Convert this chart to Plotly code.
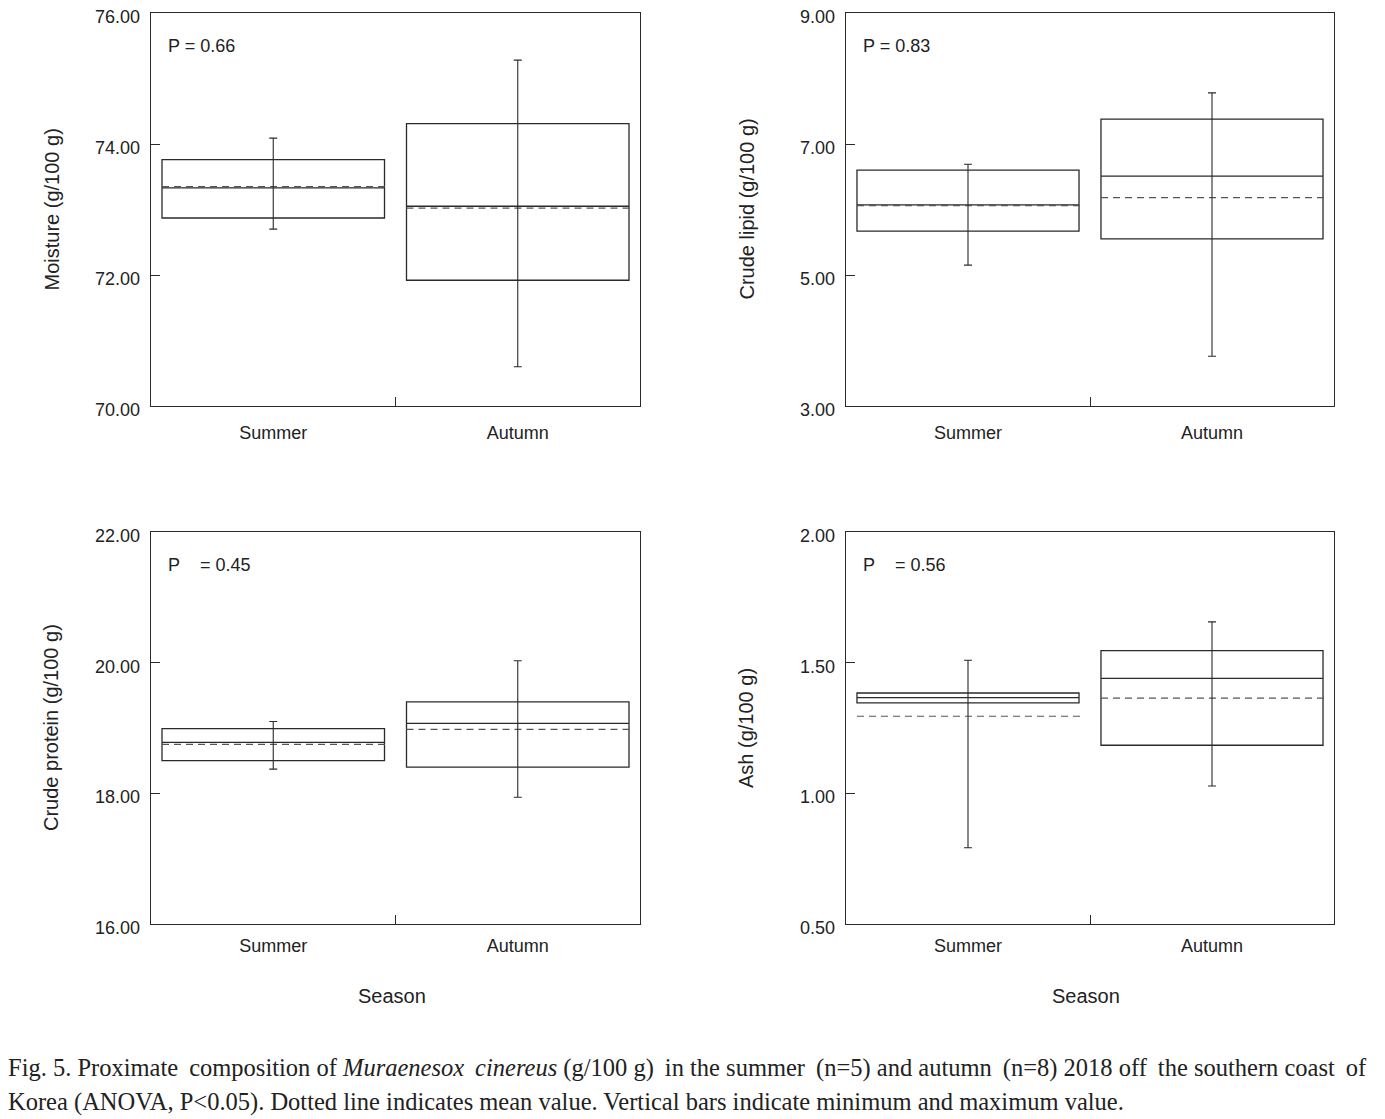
import plotly.graph_objects as go
from plotly.subplots import make_subplots

# page has an 8px body margin; figure sized to fit the window
OFF = 8
W, H = 1385 - OFF, 1119 - OFF

seasons = ["Summer", "Autumn"]

# Moisture (g/100 g)
moist_ticks = [70, 72, 74, 76]
moist_q1 = [72.87, 71.92]
moist_med = [73.33, 73.05]
moist_q3 = [73.76, 74.31]
moist_mean = [73.35, 73.02]
moist_min = [72.70, 70.60]
moist_max = [74.09, 75.28]

# Crude lipid (g/100 g)
lipid_ticks = [3, 5, 7, 9]
lipid_q1 = [5.67, 5.55]
lipid_med = [6.07, 6.51]
lipid_q3 = [6.60, 7.38]
lipid_mean = [6.06, 6.18]
lipid_min = [5.15, 3.76]
lipid_max = [6.69, 7.78]

# Crude protein (g/100 g)
prot_ticks = [16, 18, 20, 22]
prot_q1 = [18.50, 18.40]
prot_med = [18.78, 19.07]
prot_q3 = [18.99, 19.40]
prot_mean = [18.75, 18.98]
prot_min = [18.37, 17.94]
prot_max = [19.10, 20.03]

# Ash (g/100 g)
ash_ticks = [0.5, 1.0, 1.5, 2.0]
ash_q1 = [1.346, 1.184]
ash_med = [1.366, 1.440]
ash_q3 = [1.384, 1.546]
ash_mean = [1.295, 1.364]
ash_min = [0.792, 1.028]
ash_max = [1.509, 1.656]

panels = [
    dict(row=1, col=1, q1=moist_q1, med=moist_med, q3=moist_q3, mean=moist_mean,
         mn=moist_min, mx=moist_max, ticks=moist_ticks, title="Moisture (g/100 g)", p="P = 0.66"),
    dict(row=1, col=2, q1=lipid_q1, med=lipid_med, q3=lipid_q3, mean=lipid_mean,
         mn=lipid_min, mx=lipid_max, ticks=lipid_ticks, title="Crude lipid (g/100 g)", p="P = 0.83"),
    dict(row=2, col=1, q1=prot_q1, med=prot_med, q3=prot_q3, mean=prot_mean,
         mn=prot_min, mx=prot_max, ticks=prot_ticks, title="Crude protein (g/100 g)",
         p="P\u00a0\u00a0\u00a0\u00a0= 0.45"),
    dict(row=2, col=2, q1=ash_q1, med=ash_med, q3=ash_q3, mean=ash_mean,
         mn=ash_min, mx=ash_max, ticks=ash_ticks, title="Ash (g/100 g)",
         p="P\u00a0\u00a0\u00a0\u00a0= 0.56"),
]

fig = make_subplots(rows=2, cols=2)

LINE = "#2a2a2a"
DASH = "#555555"
FONT = "Liberation Sans, Arial, sans-serif"

def px(x):
    return (x - OFF) / W

def py(y):
    return 1 - (y - OFF) / H

# pixel geometry of plot areas (reference image coordinates)
xdom = {1: (151, 640), 2: (846, 1334)}
ydom = {1: (13, 406), 2: (532, 924)}
xlab_standoff = {1: 10, 2: 5}

BOXW = 0.91
pos = list(range(len(seasons)))

annotations = []
for k, pnl in enumerate(panels):
    r, c = pnl["row"], pnl["col"]
    yref = "y" if k == 0 else f"y{k + 1}"
    fig.add_trace(go.Box(
        x=pos, q1=pnl["q1"], median=pnl["med"], q3=pnl["q3"],
        lowerfence=pnl["q1"], upperfence=pnl["q3"],
        width=BOXW, fillcolor="rgba(0,0,0,0)",
        line=dict(color=LINE, width=1.3), boxpoints=False, showlegend=False,
        hoverinfo="skip",
    ), row=r, col=c)
    # mean (dashed) lines
    mx_, my_ = [], []
    for i, m in zip(pos, pnl["mean"]):
        mx_ += [i - BOXW / 2, i + BOXW / 2 + 0.015, None]
        my_ += [m, m, None]
    fig.add_trace(go.Scatter(
        x=mx_, y=my_, mode="lines", line=dict(color=DASH, width=1.2, dash="7px,5px"),
        showlegend=False, hoverinfo="skip",
    ), row=r, col=c)
    # min-max bars
    up = [a - b for a, b in zip(pnl["mx"], pnl["med"])]
    dn = [b - a for a, b in zip(pnl["mn"], pnl["med"])]
    fig.add_trace(go.Scatter(
        x=pos, y=pnl["med"], mode="markers", marker=dict(opacity=0, size=1),
        error_y=dict(type="data", symmetric=False, array=up, arrayminus=dn,
                     width=4, thickness=1.1, color=LINE),
        showlegend=False, hoverinfo="skip",
    ), row=r, col=c)

    x0, x1 = xdom[c]
    y0, y1 = ydom[r]
    tk = pnl["ticks"]
    fig.update_xaxes(row=r, col=c, domain=[px(x0), px(x1)], automargin=False,
                     range=[-0.5, 1.5], tickmode="array", tickvals=pos, ticktext=seasons,
                     ticks="", ticklabelstandoff=xlab_standoff[r],
                     minor=dict(tickmode="array", tickvals=[0.5], ticks="inside", ticklen=9,
                                tickcolor=LINE, tickwidth=1.2, showgrid=False),
                     showline=True, mirror=True, linecolor=LINE, linewidth=1.3,
                     showgrid=False, zeroline=False,
                     tickfont=dict(family=FONT, size=18, color="#222"))
    fig.update_yaxes(row=r, col=c, domain=[py(y1), py(y0)], automargin=False,
                     range=[tk[0], tk[-1]], tickmode="array", tickvals=tk,
                     showticklabels=False,
                     ticks="inside", ticklen=9, tickcolor=LINE, tickwidth=1.2,
                     showline=True, mirror=True, linecolor=LINE, linewidth=1.3,
                     showgrid=False, zeroline=False)
    # y tick labels (sit slightly below their ticks, as in the original)
    for v in tk:
        annotations.append(dict(
            text=f"{v:.2f}", xref="paper", yref=yref, x=px(x0 - 9), y=v,
            xanchor="right", yanchor="middle", yshift=-4, showarrow=False,
            font=dict(family=FONT, size=18, color="#222")))

    # y-axis title
    annotations.append(dict(
        text=pnl["title"], xref="paper", yref="paper",
        x=px(x0 - 100), y=py((y0 + y1) / 2), xanchor="center", yanchor="middle",
        textangle=-90, showarrow=False, font=dict(family=FONT, size=20, color="#222")))
    # P-value
    annotations.append(dict(
        text=pnl["p"], xref="paper", yref="paper",
        x=px(x0 + 15), y=py(y0 + 33), xanchor="left", yanchor="middle",
        showarrow=False, font=dict(family=FONT, size=18, color="#222")))

for c in (1, 2):
    x0, x1 = xdom[c]
    annotations.append(dict(
        text="Season", xref="paper", yref="paper",
        x=px((x0 + x1) / 2 - 4), y=py(996), xanchor="center", yanchor="middle",
        showarrow=False, font=dict(family=FONT, size=20, color="#222")))

SERIF = "Liberation Serif, Times New Roman, serif"
cap1_words = ["Fig.", "5.", "Proximate", "composition", "of", "<i>Muraenesox", "cinereus</i>",
              "(g/100", "g)", "in", "the", "summer", "(n=5)", "and", "autumn", "(n=8)", "2018",
              "off", "the", "southern", "coast", "of"]
# justified first line: widen every third gap slightly
cap1 = ""
for k, wd in enumerate(cap1_words):
    if k > 0:
        cap1 += " \u2009" if k % 3 == 0 else " "
    cap1 += wd
annotations.append(dict(
    text=cap1,
    xref="paper", yref="paper", x=px(6), y=py(1068), xanchor="left", yanchor="middle",
    showarrow=False, font=dict(family=SERIF, size=24.5, color="#222")))
annotations.append(dict(
    text="Korea (ANOVA, P&lt;0.05). Dotted line indicates mean value. Vertical bars indicate "
         "minimum and maximum value.",
    xref="paper", yref="paper", x=px(6), y=py(1102), xanchor="left", yanchor="middle",
    showarrow=False, font=dict(family=SERIF, size=24.5, color="#222")))

fig.update_layout(
    width=W, height=H, margin=dict(l=0, r=0, t=0, b=0, autoexpand=False),
    paper_bgcolor="white", plot_bgcolor="white",
    annotations=annotations, showlegend=False,
)

fig.write_html("out.html")
